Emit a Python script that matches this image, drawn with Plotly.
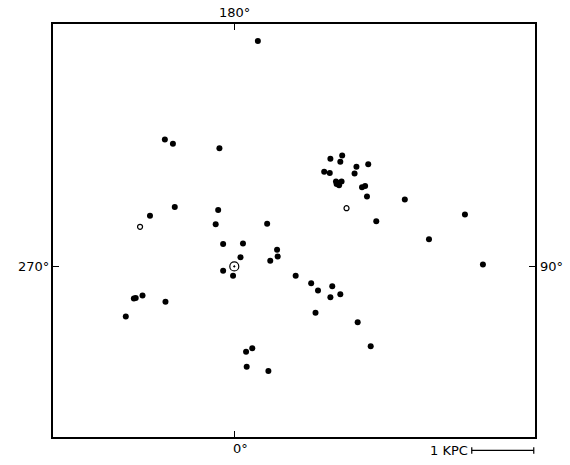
import plotly.graph_objects as go

# Positions relative to the Sun in kpc (x toward l=90°, y toward l=180°)
filled_x = [0.38, -1.12, -0.99, -0.24, 1.55, 1.74, 1.71, 1.97, 2.16, 1.45, 1.54, 1.94,
            1.64, 1.66, 1.69, 1.73, 1.65, 2.06, 2.11, 2.14, 2.75, -0.96, -1.36, -0.26,
            -0.30, 0.53, 2.29, 3.72, 3.14, -0.18, 0.14, 0.10, 0.69, 0.70, 0.58, -0.18,
            -0.02, 4.01, 0.99, 1.24, 1.58, 1.35, 1.71, 1.55, -1.62, -1.59, -1.48, -1.11,
            -1.75, 1.31, 1.99, 2.20, 0.19, 0.29, 0.20, 0.55]
filled_y = [3.64, 2.05, 1.98, 1.91, 1.74, 1.79, 1.69, 1.61, 1.65, 1.53, 1.51, 1.50,
            1.37, 1.35, 1.31, 1.37, 1.33, 1.28, 1.30, 1.13, 1.08, 0.96, 0.82, 0.91,
            0.68, 0.69, 0.73, 0.84, 0.44, 0.36, 0.37, 0.15, 0.27, 0.16, 0.09, -0.07,
            -0.15, 0.03, -0.15, -0.27, -0.32, -0.39, -0.45, -0.50, -0.52, -0.51, -0.47, -0.57,
            -0.81, -0.75, -0.90, -1.29, -1.38, -1.32, -1.62, -1.69]
open_x = [1.81, -1.52]
open_y = [0.94, 0.64]
sun_x = [0.0]
sun_y = [0.0]

x_range = [-2.924, 4.850]
y_range = [-2.755, 3.915]
scale_kpc = 1.0

fig = go.Figure()
fig.add_trace(go.Scatter(x=filled_x, y=filled_y, mode="markers",
                         marker=dict(color="black", size=6), showlegend=False))
fig.add_trace(go.Scatter(x=open_x, y=open_y, mode="markers",
                         marker=dict(color="black", size=5, symbol="circle-open",
                                     line=dict(width=1.2, color="black")), showlegend=False))
fig.add_trace(go.Scatter(x=sun_x, y=sun_y, mode="markers",
                         marker=dict(color="black", size=9, symbol="circle-open-dot",
                                     line=dict(width=1.2, color="black")), showlegend=False))

axis_common = dict(showgrid=False, zeroline=False, showline=True, linecolor="black",
                   linewidth=1.5, mirror="ticks", ticks="inside", ticklen=6,
                   tickwidth=1.2, tickcolor="black", tickvals=[0], showticklabels=False)
fig.update_xaxes(range=x_range, **axis_common)
fig.update_yaxes(range=y_range, **axis_common)

font = dict(family="DejaVu Sans", size=13, color="black")
bar_y = -0.0326
bar_x1 = 4.83
bar_x0 = bar_x1 - scale_kpc
fig.add_annotation(text="180°", x=0, xref="x", y=1, yref="paper", yanchor="bottom",
                   yshift=2, showarrow=False, font=font)
fig.add_annotation(text="0°", x=0.1, xref="x", y=0, yref="paper", yanchor="top",
                   yshift=-2, showarrow=False, font=font)
fig.add_annotation(text="270°", x=0, xref="paper", xanchor="right", xshift=-2, y=0,
                   yref="y", showarrow=False, font=font)
fig.add_annotation(text="90°", x=1, xref="paper", xanchor="left", xshift=3, y=0,
                   yref="y", showarrow=False, font=font)
fig.add_annotation(text="1 KPC", x=bar_x0, xref="x", xanchor="right", xshift=-2,
                   y=bar_y, yref="paper", yanchor="middle", showarrow=False, font=font)
fig.add_shape(type="line", xref="x", yref="paper", x0=bar_x0, x1=bar_x1, y0=bar_y, y1=bar_y,
              line=dict(color="black", width=1.2))
for bx in (bar_x0, bar_x1):
    fig.add_shape(type="line", xref="x", yref="paper", x0=bx, x1=bx,
                  y0=bar_y - 0.008, y1=bar_y + 0.008, line=dict(color="black", width=1.2))

fig.update_layout(width=570, height=465, margin=dict(l=53, r=35, t=24, b=28),
                  plot_bgcolor="white", paper_bgcolor="white")
fig.write_html("out.html", config={"displayModeBar": False},
               post_script="document.body.style.margin='0';")
